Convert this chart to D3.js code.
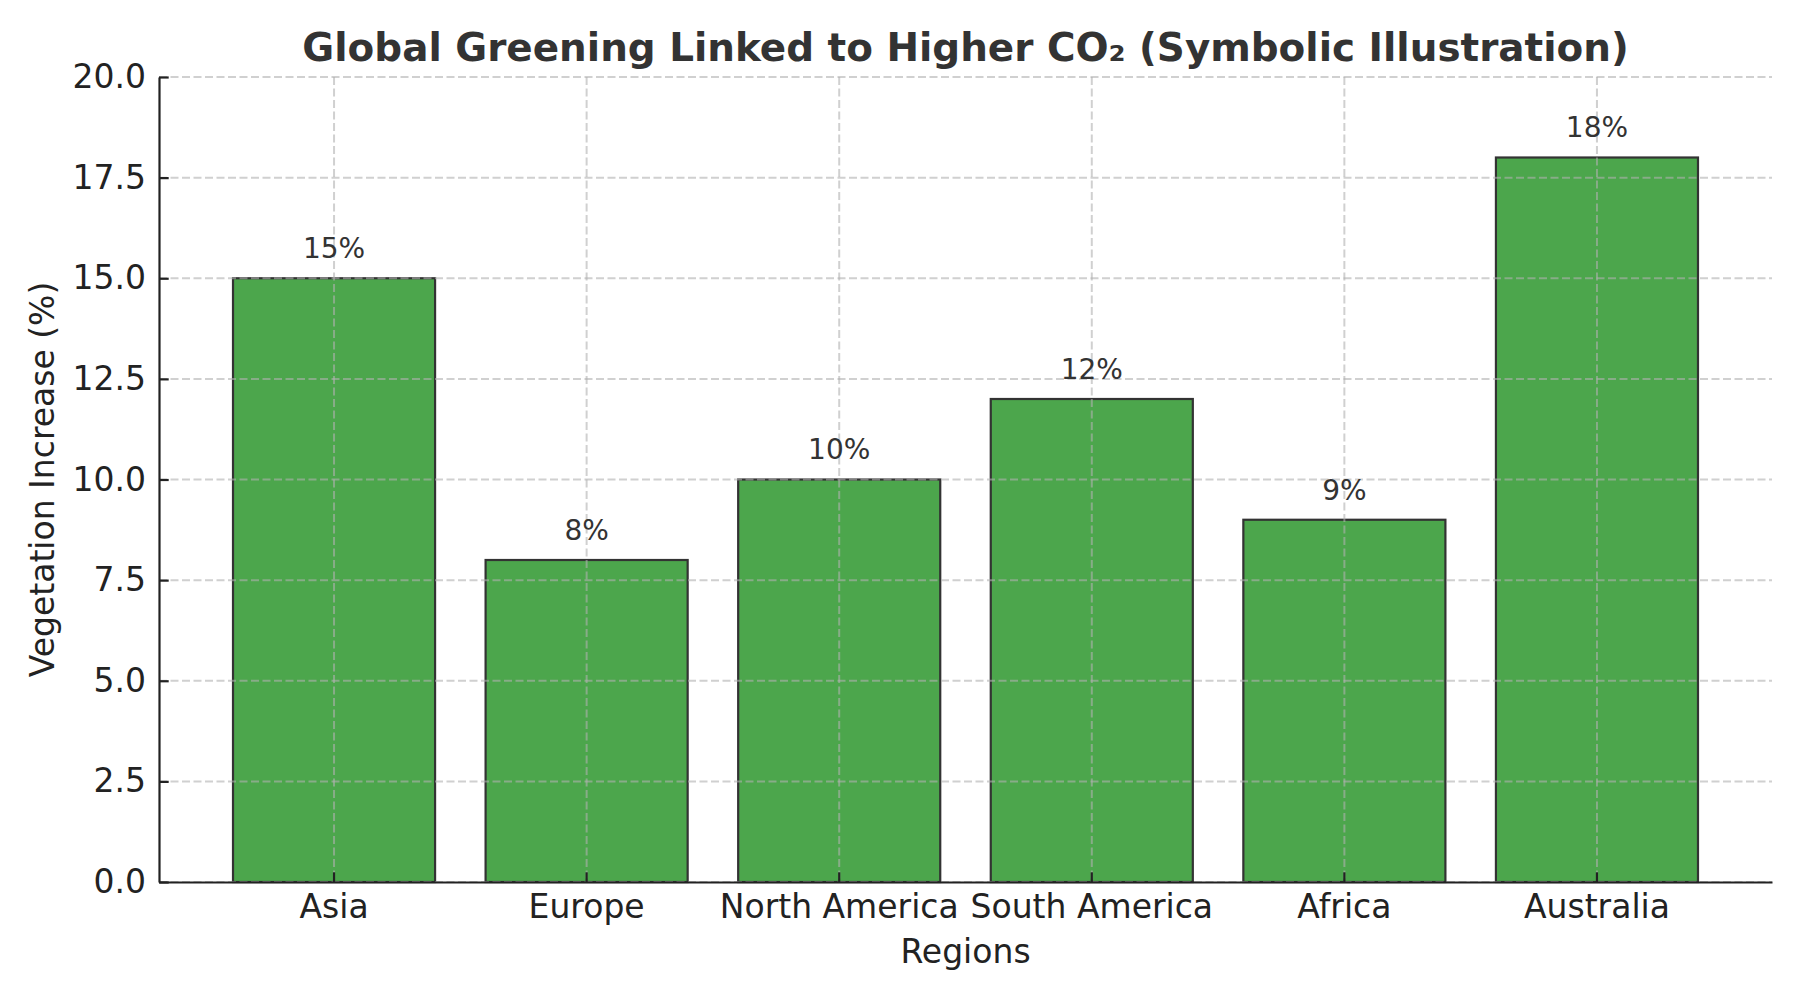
<!DOCTYPE html>
<html>
<head>
<meta charset="utf-8">
<script src="https://cdn.jsdelivr.net/npm/d3@7"></script>
<style>
  body { margin: 0; background: #fff; }
  svg { font-family: 'DejaVu Sans', sans-serif; }
</style>
</head>
<body>
<svg id="chart"></svg>
<script>
const regions = ['Asia', 'Europe', 'North America', 'South America', 'Africa', 'Australia'];
const increase = [15, 8, 10, 12, 9, 18];
const yTicks = [0, 2.5, 5, 7.5, 10, 12.5, 15, 17.5, 20];

(() => {
  const width = 1800;
  const height = 1000;
  const margin = { top: 77, right: 28, bottom: 118, left: 159 };
  const innerW = width - margin.left - margin.right;
  const innerH = height - margin.top - margin.bottom;

  const svg = d3.select('svg#chart')
    .attr('width', width)
    .attr('height', height);

  const g = svg.append('g')
    .attr('transform', `translate(${margin.left},${margin.top})`);

  const xScale = d3.scaleBand()
    .domain(regions)
    .range([0, innerW])
    .paddingInner(0.2)
    .paddingOuter(0.293);

  const yScale = d3.scaleLinear()
    .domain([0, 20])
    .range([innerH, 0]);

  // bars
  g.selectAll('rect.bar')
    .data(regions)
    .enter()
    .append('rect')
      .attr('class', 'bar')
      .attr('x', d => xScale(d))
      .attr('width', xScale.bandwidth())
      .attr('y', (d, i) => yScale(increase[i]))
      .attr('height', (d, i) => innerH - yScale(increase[i]))
      .attr('fill', '#4ca64c')
      .attr('stroke', '#333')
      .attr('stroke-width', 2.2);

  // grid on top of the bars
  const grid = g.append('g')
    .attr('stroke', '#b0b0b0')
    .attr('stroke-opacity', 0.6)
    .attr('stroke-width', 2)
    .attr('stroke-dasharray', '8,3.5');

  grid.selectAll('line.h')
    .data(yTicks)
    .enter()
    .append('line')
      .attr('x1', 0)
      .attr('x2', innerW)
      .attr('y1', d => yScale(d))
      .attr('y2', d => yScale(d));

  grid.selectAll('line.v')
    .data(regions)
    .enter()
    .append('line')
      .attr('x1', d => xScale(d) + xScale.bandwidth() / 2)
      .attr('x2', d => xScale(d) + xScale.bandwidth() / 2)
      .attr('y1', 0)
      .attr('y2', innerH);

  // value labels
  g.selectAll('text.value')
    .data(regions)
    .enter()
    .append('text')
      .attr('class', 'value')
      .attr('x', d => xScale(d) + xScale.bandwidth() / 2)
      .attr('y', (d, i) => yScale(increase[i] + 0.5))
      .attr('text-anchor', 'middle')
      .attr('font-size', 28)
      .attr('fill', '#333')
      .text((d, i) => `${increase[i]}%`);

  // axes
  const xAxis = g.append('g')
    .attr('transform', `translate(0,${innerH})`)
    .call(d3.axisBottom(xScale).tickSize(-9.7).tickSizeOuter(0).tickPadding(13));

  const yAxis = g.append('g')
    .call(d3.axisLeft(yScale).tickValues(yTicks).tickFormat(d3.format('.1f'))
      .tickSize(-9.7).tickSizeOuter(0).tickPadding(13));

  [xAxis, yAxis].forEach(ax => {
    ax.select('.domain').attr('stroke', '#222').attr('stroke-width', 2.2);
    ax.selectAll('.tick line').attr('stroke', '#222').attr('stroke-width', 2.2);
    ax.selectAll('.tick text')
      .attr('font-size', 33)
      .attr('fill', '#222')
      .attr('font-family', "'DejaVu Sans', sans-serif");
  });

  // titles
  svg.append('text')
    .attr('x', margin.left + innerW / 2)
    .attr('y', 61)
    .attr('text-anchor', 'middle')
    .attr('font-size', 38.9)
    .attr('font-weight', 'bold')
    .attr('fill', '#333')
    .text('Global Greening Linked to Higher CO₂ (Symbolic Illustration)');

  svg.append('text')
    .attr('x', margin.left + innerW / 2)
    .attr('y', 963)
    .attr('text-anchor', 'middle')
    .attr('font-size', 33)
    .attr('fill', '#222')
    .text('Regions');

  svg.append('text')
    .attr('transform', `translate(54,${margin.top + innerH / 2}) rotate(-90)`)
    .attr('text-anchor', 'middle')
    .attr('font-size', 33)
    .attr('fill', '#222')
    .text('Vegetation Increase (%)');
})();
</script>
</body>
</html>
